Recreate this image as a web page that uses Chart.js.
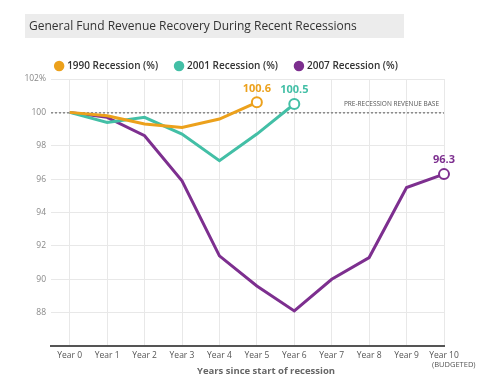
<!DOCTYPE html>
<html>
<head>
<meta charset="utf-8">
<script src="https://cdn.jsdelivr.net/npm/chart.js@4.4.0/dist/chart.umd.min.js"></script>
<style>
  html, body { margin: 0; padding: 0; background: #fff; }
  #wrap { width: 500px; height: 386px; }
</style>
</head>
<body>
<div id="wrap"><canvas id="myChart" width="500" height="386"></canvas></div>
<script>
// values
const years = [0, 1, 2, 3, 4, 5, 6, 7, 8, 9, 10];
const yearLabels = ["Year 0", "Year 1", "Year 2", "Year 3", "Year 4", "Year 5",
                    "Year 6", "Year 7", "Year 8", "Year 9", "Year 10"];
const rec1990 = [100, 99.8, 99.3, 99.1, 99.6, 100.6];
const rec2001 = [100, 99.4, 99.7, 98.7, 97.1, 98.7, 100.5];
const rec2007 = [100, 99.7, 98.6, 95.9, 91.4, 89.6, 88.1, 90.0, 91.3, 95.5, 96.3];
const yTicks = [88, 90, 92, 94, 96, 98, 100, 102];

const FONT = "'Open Sans', sans-serif";
const ORANGE = "#ECA11C";
const TEAL = "#43BFA6";
const PURPLE = "#7D2F8F";

function makeSet(label, vals, color) {
  return {
    label: label,
    data: vals.map((v, i) => ({ x: years[i], y: v })),
    borderColor: color,
    backgroundColor: color,
    borderWidth: 3,
    tension: 0,
    clip: false,
    pointRadius: (c) => c.dataIndex === vals.length - 1 ? 5 : 0,
    pointHoverRadius: 0,
    pointBorderWidth: 2,
    pointBackgroundColor: (c) => c.dataIndex === vals.length - 1 ? "#fff" : color,
    pointBorderColor: color,
    endLabel: vals[vals.length - 1].toFixed(1)
  };
}

// title box, baseline at 100, end labels, budget note, axis title
const extras = {
  id: "extras",
  beforeInit(chart) {
    const fit = chart.legend.fit;
    chart.legend.fit = function () {
      fit.bind(chart.legend)();
      this.height = 36;
    };
  },
  afterLayout(chart) {
    // nudge legend row to the right a little
    chart.legend.left += 5;
    chart.legend.right += 5;
  },
  beforeDraw(chart) {
    const ctx = chart.ctx;
    ctx.save();
    ctx.fillStyle = "#ECECEC";
    ctx.fillRect(25, 14, 379, 24);
    ctx.fillStyle = "#333";
    ctx.font = "12px " + FONT;
    ctx.textBaseline = "middle";
    ctx.fillText("General Fund Revenue Recovery During Recent Recessions", 29, 26.5);
    ctx.restore();
  },
  beforeDatasetsDraw(chart) {
    const ctx = chart.ctx;
    const area = chart.chartArea;
    const y = chart.scales.y.getPixelForValue(100);
    ctx.save();
    ctx.strokeStyle = "#555";
    ctx.lineWidth = 1;
    ctx.setLineDash([2, 2]);
    ctx.beginPath();
    ctx.moveTo(area.left, y + 0.5);
    ctx.lineTo(area.right, y + 0.5);
    ctx.stroke();
    ctx.setLineDash([]);
    ctx.fillStyle = "#555";
    ctx.font = "6.5px " + FONT;
    ctx.textAlign = "right";
    ctx.textBaseline = "middle";
    ctx.fillText("PRE-RECESSION REVENUE BASE", area.right - 5, y - 8.5);
    ctx.restore();
  },
  afterDatasetsDraw(chart) {
    const ctx = chart.ctx;
    ctx.save();
    ctx.font = "bold 11px " + FONT;
    ctx.textAlign = "center";
    ctx.textBaseline = "middle";
    chart.data.datasets.forEach((ds, i) => {
      const pts = chart.getDatasetMeta(i).data;
      const p = pts[pts.length - 1];
      ctx.fillStyle = ds.borderColor;
      ctx.fillText(ds.endLabel, p.x, p.y - 14);
    });
    // second line under the last tick
    const xs = chart.scales.x;
    ctx.font = "7.5px " + FONT;
    ctx.fillStyle = "#555";
    ctx.textAlign = "left";
    ctx.fillText("(BUDGETED)", xs.getPixelForValue(10) - 12, 364.5);
    // axis title sits a bit right of centre in the original
    ctx.font = "bold 9.5px " + FONT;
    ctx.fillStyle = "#666";
    ctx.textAlign = "center";
    ctx.fillText("Years since start of recession", 266, 371);
    ctx.restore();
  }
};

var ctx = document.getElementById("myChart").getContext("2d");
var myChart = new Chart(ctx, {
  type: "line",
  data: {
    datasets: [
      makeSet("1990 Recession (%)", rec1990, ORANGE),
      makeSet("2001 Recession (%)", rec2001, TEAL),
      makeSet("2007 Recession (%)", rec2007, PURPLE)
    ]
  },
  options: {
    responsive: false,
    animation: false,
    layout: { padding: { top: 43, left: 0, right: 56, bottom: 0 } },
    plugins: {
      title: { display: false },
      tooltip: { enabled: false },
      legend: {
        display: true,
        position: "top",
        labels: {
          usePointStyle: true,
          pointStyle: "circle",
          boxHeight: 6,
          boxWidth: 6,
          padding: 18,
          color: "#333",
          font: { family: FONT, size: 10, weight: "600" }
        }
      }
    },
    scales: {
      x: {
        type: "linear",
        min: -0.5,
        max: 10,
        afterBuildTicks: (scale) => {
          scale.ticks = years.map((v) => ({ value: v }));
        },
        afterFit: (scale) => { scale.height = 40; },
        ticks: {
          autoSkip: false,
          maxRotation: 0,
          padding: 4,
          color: "#555",
          font: { family: FONT, size: 8.5 },
          callback: (v) => yearLabels[v]
        },
        grid: { color: "#E8E8E8", lineWidth: 1, drawTicks: false },
        border: { display: true, color: "#555", width: 2 },
        title: { display: false }
      },
      y: {
        min: 86,
        max: 102,
        afterBuildTicks: (scale) => {
          scale.ticks = [86].concat(yTicks).map((v) => ({ value: v }));
        },
        afterFit: (scale) => { scale.width = 51; },
        ticks: {
          padding: 5,
          color: "#888",
          font: { family: FONT, size: 8.5 },
          callback: (v) => v === 86 ? "" : (v === 102 ? "102%" : String(v))
        },
        grid: {
          color: (c) => c.tick && c.tick.value === 86 ? "rgba(0,0,0,0)" : "#E8E8E8",
          lineWidth: 1,
          drawTicks: false
        },
        border: { display: false }
      }
    }
  },
  plugins: [extras]
});
</script>
</body>
</html>
